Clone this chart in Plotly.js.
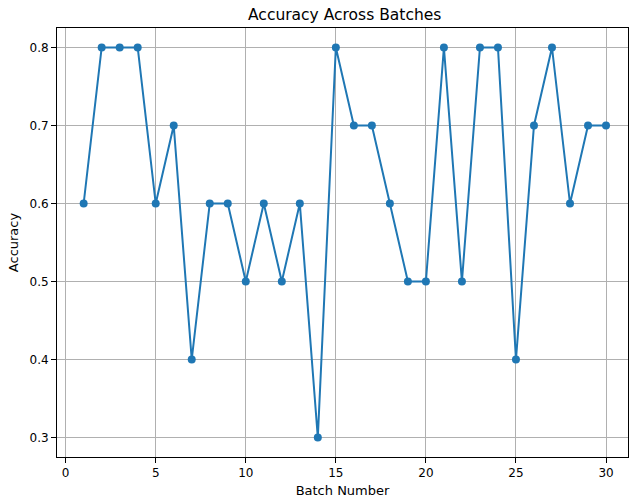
<!DOCTYPE html>
<html>
<head>
<meta charset="utf-8">
<script src="https://cdn.plot.ly/plotly-3.0.1.min.js"></script>
<style>html,body{margin:0;padding:0;background:#fff;}#chart{width:629px;height:499px;}</style>
</head>
<body>
<div id="chart"></div>
<script>
const batches = [1,2,3,4,5,6,7,8,9,10,11,12,13,14,15,16,17,18,19,20,21,22,23,24,25,26,27,28,29,30];
const accuracy = [0.6,0.8,0.8,0.8,0.6,0.7,0.4,0.6,0.6,0.5,0.6,0.5,0.6,0.3,0.8,0.7,0.7,0.6,0.5,0.5,0.8,0.5,0.8,0.8,0.4,0.7,0.8,0.6,0.7,0.7];
const xTicks = [0,5,10,15,20,25,30];
const yTicks = [0.3,0.4,0.5,0.6,0.7,0.8];

const font = {family: 'DejaVu Sans', size: 13, color: '#000'};
const axisCommon = {
  showline: true, linecolor: '#000', linewidth: 1, mirror: true,
  ticks: 'outside', ticklen: 5, tickwidth: 1, tickcolor: '#000',
  showgrid: true, gridcolor: '#b0b0b0', gridwidth: 1,
  zeroline: false, tickfont: {family: 'DejaVu Sans', size: 12, color: '#000'}
};
Plotly.newPlot('chart', [{
  x: batches, y: accuracy, type: 'scatter', mode: 'lines+markers',
  line: {color: '#1f77b4', width: 2},
  marker: {color: '#1f77b4', size: 8}
}], {
  width: 629, height: 499,
  margin: {l: 57, r: 1, t: 28, b: 42},
  paper_bgcolor: '#fff', plot_bgcolor: '#fff',
  font: font,
  showlegend: false,
  title: {text: 'Accuracy Across Batches', x: 0.548, xanchor: 'center', y: 0.97, yanchor: 'middle', font: {family: 'DejaVu Sans', size: 15.5, color: '#000'}},
  xaxis: Object.assign({}, axisCommon, {
    range: [-0.48, 31.22], tickvals: xTicks, ticktext: xTicks.map(String),
    title: {text: 'Batch Number', font: font, standoff: 6}
  }),
  yaxis: Object.assign({}, axisCommon, {
    range: [0.275, 0.825], tickvals: yTicks, ticktext: yTicks.map(v => v.toFixed(1)),
    title: {text: 'Accuracy', font: font, standoff: 7}
  })
}, {displayModeBar: false, staticPlot: true});
</script>
</body>
</html>
